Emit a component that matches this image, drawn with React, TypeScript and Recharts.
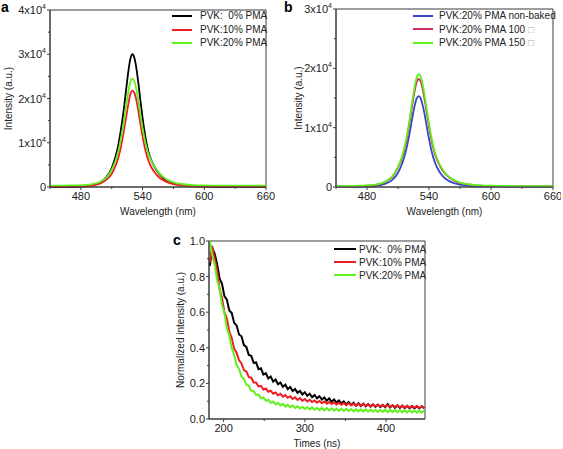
// PL spectra (a, b) and normalized TRPL decay (c) for PVK:PMA films.
import { Line, LineChart, ReferenceArea, XAxis, YAxis } from 'recharts'

const WAVE = [
  450, 460, 470, 480, 490, 495, 500, 505, 510, 513, 516, 519, 522, 524, 526, 528, 530, 532,
  534, 536, 538, 540, 543, 546, 549, 552, 556, 560, 565, 570, 580, 590, 600, 620, 640, 660,
]
const A_PMA0 = [
  0, 20, 50, 100, 350, 650, 1200, 2300, 4300, 6300, 9000, 13000, 18000, 22000, 25800, 28800, 30000, 29200,
  26800, 23300, 19300, 15600, 11000, 7700, 5800, 4400, 3000, 2100, 1300, 850, 420, 220, 130, 50, 20, 10,
]
const A_PMA10 = [
  100, 110, 130, 170, 330, 520, 900, 1650, 3000, 4400, 6300, 9100, 12900, 15700, 18500, 20900, 21800, 21300,
  19600, 17000, 14100, 11400, 8100, 5800, 4300, 3200, 2200, 1550, 1000, 650, 350, 220, 160, 120, 110, 100,
]
const A_PMA20 = [
  300, 320, 350, 420, 600, 850, 1300, 2200, 3900, 5500, 7700, 10900, 15000, 18200, 21300, 23700, 24500, 23900,
  22000, 19300, 16200, 13300, 9800, 7300, 5700, 4500, 3200, 2300, 1500, 1050, 620, 430, 360, 310, 300, 300,
]
const B_NONBAKED = [
  50, 60, 80, 120, 250, 420, 720, 1300, 2400, 3500, 5000, 7100, 9800, 11800, 13600, 14900, 15300, 14900,
  13700, 12000, 10000, 8100, 5700, 4000, 2900, 2100, 1400, 950, 600, 400, 200, 120, 90, 60, 50, 50,
]
const B_100 = [
  100, 120, 150, 210, 400, 640, 1080, 1850, 3250, 4500, 6200, 8600, 11800, 14000, 16100, 17600, 18200, 17800,
  16400, 14500, 12300, 10200, 7400, 5400, 4100, 3100, 2150, 1550, 1000, 680, 380, 240, 180, 130, 110, 100,
]
const B_150 = [
  150, 170, 200, 260, 450, 700, 1150, 1950, 3400, 4700, 6500, 9000, 12300, 14600, 16800, 18400, 19000, 18600,
  17200, 15200, 12900, 10700, 7800, 5700, 4300, 3300, 2300, 1650, 1100, 750, 420, 280, 220, 170, 150, 150,
]

const TIMES = [
  183, 186, 189, 192, 195, 198, 201, 204, 207, 210,
  213, 216, 219, 222, 225, 228, 231, 234, 237, 240,
  243, 246, 249, 252, 255, 258, 261, 264, 267, 270,
  273, 276, 279, 282, 285, 288, 291, 294, 297, 300,
  303, 306, 309, 312, 315, 318, 321, 324, 327, 330,
  333, 336, 339, 342, 345, 348, 351, 354, 357, 360,
  363, 366, 369, 372, 375, 378, 381, 384, 387, 390,
  393, 396, 399, 402, 405, 408, 411, 414, 417, 420,
  423, 426, 429, 432, 435, 438, 441, 444, 447,
]
const C_PMA0 = [
  0.86, 0.96, 0.93, 0.87, 0.79, 0.76, 0.69, 0.67, 0.61, 0.595,
  0.54, 0.525, 0.475, 0.465, 0.415, 0.405, 0.36, 0.355, 0.315, 0.318,
  0.28, 0.285, 0.25, 0.258, 0.228, 0.238, 0.21, 0.222, 0.195, 0.205,
  0.18, 0.193, 0.168, 0.18, 0.157, 0.168, 0.147, 0.158, 0.138, 0.15,
  0.13, 0.142, 0.122, 0.135, 0.116, 0.128, 0.109, 0.121, 0.103, 0.116,
  0.097, 0.11, 0.092, 0.104, 0.087, 0.099, 0.082, 0.095, 0.078, 0.091,
  0.075, 0.089, 0.073, 0.086, 0.071, 0.084, 0.07, 0.082, 0.068, 0.081,
  0.067, 0.079, 0.066, 0.083, 0.065, 0.077, 0.063, 0.076, 0.062, 0.075,
  0.061, 0.074, 0.06, 0.073, 0.06, 0.072, 0.059, 0.071, 0.06,
]
const C_PMA10 = [
  0.88, 0.97, 0.9, 0.83, 0.73, 0.68, 0.6, 0.565, 0.49, 0.455,
  0.395, 0.372, 0.33, 0.312, 0.275, 0.267, 0.235, 0.232, 0.205, 0.205,
  0.183, 0.186, 0.166, 0.171, 0.153, 0.159, 0.142, 0.149, 0.133, 0.141,
  0.125, 0.134, 0.119, 0.128, 0.113, 0.122, 0.107, 0.117, 0.102, 0.112,
  0.098, 0.108, 0.095, 0.104, 0.092, 0.101, 0.089, 0.098, 0.086, 0.095,
  0.084, 0.093, 0.082, 0.091, 0.08, 0.089, 0.078, 0.088, 0.077, 0.086,
  0.075, 0.085, 0.074, 0.084, 0.073, 0.082, 0.072, 0.081, 0.071, 0.08,
  0.07, 0.079, 0.069, 0.078, 0.068, 0.077, 0.067, 0.076, 0.066, 0.075,
  0.065, 0.074, 0.064, 0.073, 0.064, 0.072, 0.063, 0.071, 0.062,
]
const C_PMA20 = [
  1.0, 0.92, 0.87, 0.78, 0.73, 0.64, 0.595, 0.51, 0.47, 0.398,
  0.362, 0.303, 0.282, 0.238, 0.226, 0.192, 0.186, 0.159, 0.158, 0.135,
  0.137, 0.116, 0.121, 0.102, 0.108, 0.091, 0.098, 0.082, 0.091, 0.076,
  0.085, 0.07, 0.08, 0.066, 0.076, 0.062, 0.072, 0.059, 0.069, 0.056,
  0.067, 0.054, 0.065, 0.052, 0.063, 0.05, 0.062, 0.049, 0.061, 0.048,
  0.06, 0.047, 0.059, 0.046, 0.058, 0.045, 0.057, 0.044, 0.056, 0.043,
  0.055, 0.043, 0.054, 0.042, 0.054, 0.041, 0.053, 0.041, 0.052, 0.04,
  0.052, 0.04, 0.051, 0.039, 0.051, 0.039, 0.05, 0.038, 0.05, 0.038,
  0.049, 0.037, 0.049, 0.037, 0.048, 0.036, 0.048, 0.036, 0.047,
]

const WAVE_DOMAIN: [number, number] = [450, 660]
const WAVE_TICKS = [450, 480, 510, 540, 570, 600, 630, 660]
const WAVE_LABELS = [480, 540, 600, 660]
const A_Y_MAX = 40000
const A_Y_TICKS = [0, 5000, 10000, 15000, 20000, 25000, 30000, 35000, 40000]
const B_Y_MAX = 30000
const B_Y_TICKS = [0, 5000, 10000, 15000, 20000, 25000, 30000]
const C_X_DOMAIN: [number, number] = [182, 448]
const C_X_TICKS = [200, 250, 300, 350, 400]
const C_X_LABELS = [200, 300, 400]
const C_Y_TICKS = [0, 0.1, 0.2, 0.3, 0.4, 0.5, 0.6, 0.7, 0.8, 0.9, 1.0]

const AXIS = '#3a3a3a'
const TEXT = '#222'
const BLACK = '#000000'
const RED = '#ee1d23'
const GREEN = '#62f01c'
const BLUE = '#3547c6'
const PINK = '#d02a5e'

const specA = WAVE.map((w, i) => ({ w, p0: A_PMA0[i], p10: A_PMA10[i], p20: A_PMA20[i] }))
const specB = WAVE.map((w, i) => ({ w, nb: B_NONBAKED[i], t100: B_100[i], t150: B_150[i] }))
const decay = TIMES.map((t, i) => ({ t, p0: C_PMA0[i], p10: C_PMA10[i], p20: C_PMA20[i] }))

function SciYTick(props: any) {
  const { x, y, payload } = props
  const v = payload.value as number
  const major = v % 10000 === 0
  const n = v / 10000
  return (
    <g>
      <line x1={x - (major ? 3 : 2)} x2={x} y1={y} y2={y} stroke={AXIS} />
      {major && (
        <text x={x - 4} y={y} dy={4} textAnchor="end" fontSize={11} fill={TEXT}>
          {n === 0 ? '0' : (
            <>
              {n}x10<tspan dy={-5} fontSize={7}>4</tspan>
            </>
          )}
        </text>
      )}
    </g>
  )
}

function DecimalYTick(props: any) {
  const { x, y, payload } = props
  const v = payload.value as number
  const major = Math.round(v * 10) % 2 === 0
  return (
    <g>
      <line x1={x - (major ? 3 : 2)} x2={x} y1={y} y2={y} stroke={AXIS} />
      {major && (
        <text x={x - 4} y={y} dy={4} textAnchor="end" fontSize={11} fill={TEXT}>
          {v.toFixed(1)}
        </text>
      )}
    </g>
  )
}

function xTick(labels: number[]) {
  return (props: any) => {
    const { x, y, payload } = props
    const major = labels.includes(payload.value)
    return (
      <g>
        <line x1={x} x2={x} y1={y} y2={y + (major ? 3 : 2)} stroke={AXIS} />
        {major && (
          <text x={x} y={y + 13} textAnchor="middle" fontSize={11} fill={TEXT}>
            {payload.value}
          </text>
        )}
      </g>
    )
  }
}

interface LegendItem {
  label: React.ReactNode
  color: string
}

function LegendBox({ items, left, top, lineW, gap, rowH }: { items: LegendItem[]; left: number; top: number; lineW: number; gap: number; rowH: number }) {
  return (
    <div style={{ position: 'absolute', left, top, fontSize: 10, color: TEXT, lineHeight: `${rowH}px`, whiteSpace: 'nowrap' }}>
      {items.map((it, i) => (
        <div key={i} style={{ display: 'flex', alignItems: 'center', height: rowH }}>
          <div style={{ width: lineW, height: 2, background: it.color, marginRight: gap }} />
          <span>{it.label}</span>
        </div>
      ))}
    </div>
  )
}

const Tofu = () => <span style={{ color: '#aaa' }}>□</span>

export default function App() {
  const axisCommon = { stroke: AXIS, tickSize: 0, tickMargin: 0, tickLine: false, interval: 0 as const }
  return (
    <div style={{ position: 'absolute', left: 0, top: 0, width: 563, height: 449, background: '#fff', fontFamily: '"Liberation Sans", Arial, sans-serif', overflow: 'hidden' }}>
      {/* panel a */}
      <div style={{ position: 'absolute', left: 0, top: 0 }}>
        <LineChart width={280} height={225} data={specA} margin={{ top: 10, right: 14, bottom: 0, left: 0 }}>
          <XAxis dataKey="w" type="number" domain={WAVE_DOMAIN} ticks={WAVE_TICKS} height={38} tick={xTick(WAVE_LABELS)} {...axisCommon}
            label={{ value: 'Wavelength (nm)', position: 'insideBottom', offset: 10, fontSize: 10, fill: TEXT }} />
          <YAxis type="number" domain={[0, A_Y_MAX]} ticks={A_Y_TICKS} width={50} tick={SciYTick} {...axisCommon}
            label={{ value: 'Intensity (a.u.)', angle: -90, position: 'insideLeft', offset: 8, fontSize: 10, fill: TEXT, style: { textAnchor: 'middle' } }} />
          <ReferenceArea x1={WAVE_DOMAIN[0]} x2={WAVE_DOMAIN[1]} y1={0} y2={A_Y_MAX} fill="none" stroke={AXIS} />
          <Line type="monotone" dataKey="p0" stroke={BLACK} strokeWidth={1.8} dot={false} isAnimationActive={false} />
          <Line type="monotone" dataKey="p10" stroke={RED} strokeWidth={1.8} dot={false} isAnimationActive={false} />
          <Line type="monotone" dataKey="p20" stroke={GREEN} strokeWidth={1.8} dot={false} isAnimationActive={false} />
        </LineChart>
      </div>
      <div style={{ position: 'absolute', left: 1, top: 0, fontSize: 14, lineHeight: '14px', fontWeight: 'bold' }}>a</div>
      <LegendBox left={172} top={9} lineW={20} gap={8} rowH={13.7} items={[
        { label: 'PVK:\u00a0 0% PMA', color: BLACK },
        { label: 'PVK:10% PMA', color: RED },
        { label: 'PVK:20% PMA', color: GREEN },
      ]} />

      {/* panel b */}
      <div style={{ position: 'absolute', left: 286, top: 0 }}>
        <LineChart width={275} height={225} data={specB} margin={{ top: 9, right: 8, bottom: 0, left: 0 }}>
          <XAxis dataKey="w" type="number" domain={WAVE_DOMAIN} ticks={WAVE_TICKS} height={38} tick={xTick(WAVE_LABELS)} {...axisCommon}
            label={{ value: 'Wavelength (nm)', position: 'insideBottom', offset: 10, fontSize: 10, fill: TEXT }} />
          <YAxis type="number" domain={[0, B_Y_MAX]} ticks={B_Y_TICKS} width={50} tick={SciYTick} {...axisCommon}
            label={{ value: 'Intensity (a.u.)', angle: -90, position: 'insideLeft', offset: 12, fontSize: 10, fill: TEXT, style: { textAnchor: 'middle' } }} />
          <ReferenceArea x1={WAVE_DOMAIN[0]} x2={WAVE_DOMAIN[1]} y1={0} y2={B_Y_MAX} fill="none" stroke={AXIS} />
          <Line type="monotone" dataKey="nb" stroke={BLUE} strokeWidth={1.8} dot={false} isAnimationActive={false} />
          <Line type="monotone" dataKey="t100" stroke={PINK} strokeWidth={1.8} dot={false} isAnimationActive={false} />
          <Line type="monotone" dataKey="t150" stroke={GREEN} strokeWidth={1.8} dot={false} isAnimationActive={false} />
        </LineChart>
      </div>
      <div style={{ position: 'absolute', left: 284, top: 0, fontSize: 14, lineHeight: '14px', fontWeight: 'bold' }}>b</div>
      <LegendBox left={413} top={9} lineW={20} gap={6} rowH={13.5} items={[
        { label: 'PVK:20% PMA non-baked', color: BLUE },
        { label: <>PVK:20% PMA 100 <Tofu /></>, color: PINK },
        { label: <>PVK:20% PMA 150 <Tofu /></>, color: GREEN },
      ]} />

      {/* panel c */}
      <div style={{ position: 'absolute', left: 159, top: 231 }}>
        <LineChart width={280} height={218} data={decay} margin={{ top: 10, right: 14, bottom: 0, left: 0 }}>
          <XAxis dataKey="t" type="number" domain={C_X_DOMAIN} ticks={C_X_TICKS} height={30} tick={xTick(C_X_LABELS)} {...axisCommon}
            label={{ value: 'Times (ns)', position: 'insideBottom', offset: 2, fontSize: 10, fill: TEXT }} />
          <YAxis type="number" domain={[0, 1]} ticks={C_Y_TICKS} width={50} tick={DecimalYTick} {...axisCommon}
            label={{ value: 'Normalized intensity (a.u.)', angle: -90, position: 'insideLeft', offset: 21, fontSize: 10, fill: TEXT, style: { textAnchor: 'middle' } }} />
          <ReferenceArea x1={C_X_DOMAIN[0]} x2={C_X_DOMAIN[1]} y1={0} y2={1} fill="none" stroke={AXIS} />
          <Line type="linear" dataKey="p0" stroke={BLACK} strokeWidth={2} dot={false} isAnimationActive={false} />
          <Line type="linear" dataKey="p10" stroke={RED} strokeWidth={2} dot={false} isAnimationActive={false} />
          <Line type="linear" dataKey="p20" stroke={GREEN} strokeWidth={2} dot={false} isAnimationActive={false} />
        </LineChart>
      </div>
      <div style={{ position: 'absolute', left: 173, top: 233, fontSize: 14, lineHeight: '14px', fontWeight: 'bold' }}>c</div>
      <LegendBox left={334} top={242.5} lineW={22} gap={3} rowH={13} items={[
        { label: 'PVK:\u00a0 0% PMA', color: BLACK },
        { label: 'PVK:10% PMA', color: RED },
        { label: 'PVK:20% PMA', color: GREEN },
      ]} />
    </div>
  )
}
